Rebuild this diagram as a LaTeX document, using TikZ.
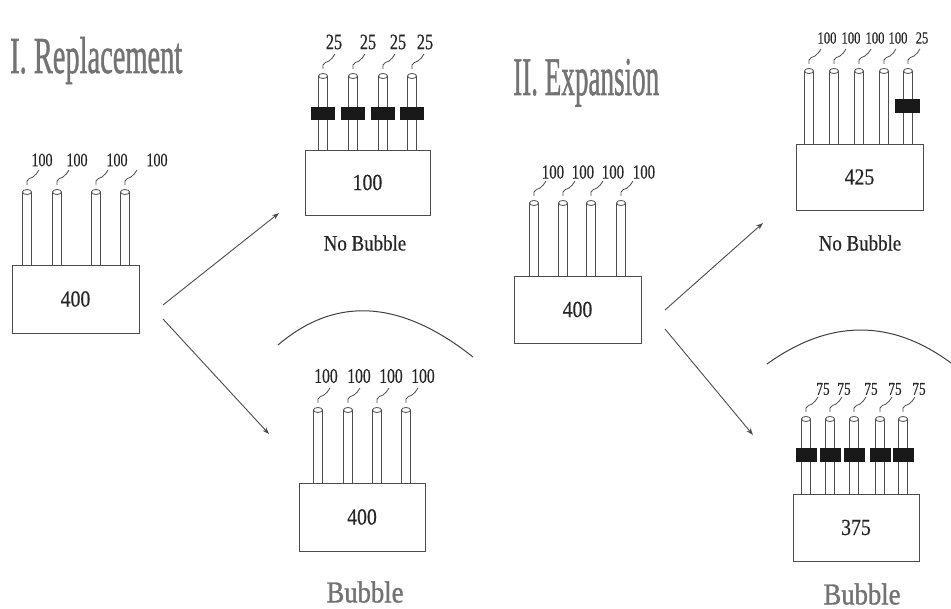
\documentclass[tikz,border=0pt]{standalone}
\usepackage{fontspec}
\setmainfont{Liberation Serif}
\newfontfamily\cf[FakeStretch=0.74,FakeBold=0.4]{Liberation Serif}
\newfontfamily\cfb[FakeStretch=0.86,FakeBold=0.4]{Liberation Serif}
\newfontfamily\tf[FakeBold=1.2]{Liberation Serif}
\usetikzlibrary{arrows.meta}
\tikzset{
  tubeline/.style={draw=black!70, line width=0.8pt},
  squig/.style={draw=black!70, line width=0.8pt},
  lab/.style={inner sep=0pt, text=black!85},
  box/.style={draw=black!70, line width=0.9pt, fill=white, inner sep=0pt, text=black!85, font=\cfb\fontsize{23}{23}\selectfont},
  arr/.style={draw=black!70, line width=0.9pt, -{Stealth[length=7pt,width=5pt]}},
  bubble/.style={draw=black!75, line width=1pt},
  blk/.style={fill=black!90},
  title/.style={anchor=base west, inner sep=0pt, text=black!55, font=\tf},
}
\newcommand\tubeat[6]{%
  \draw[tubeline] (#1-4.5,#2) -- (#1-4.5,#3) (#1+4.5,#2) -- (#1+4.5,#3);
  \draw[tubeline,fill=white] (#1,#2) ellipse [x radius=4.5pt, y radius=2.5pt];
  \draw[squig] (#1,#2-7) -- (#1,#2-11) .. controls (#1+1,#2-14) and (#1+3,#2-13) .. (#1+6,#2-15) .. controls (#1+9,#2-17) and (#1+10,#2-19) .. (#1+12,#2-22);
  \node[lab] at (#4,#5) {#6};
}
\begin{document}
\begin{tikzpicture}[x=1pt,y=-1pt]
\fill[white] (0,0) rectangle (951,609);
\useasboundingbox (0,0) rectangle (951,609);

% titles
\node[title] (t1) at (10,73) {\resizebox{172pt}{36pt}{I. Replacement}};
\node[title] (t2) at (513,95) {\resizebox{146pt}{36pt}{II. Expansion}};

% group 1
\begin{scope}[lab/.append style={font=\cf\fontsize{19}{19}\selectfont}]
\foreach \tx/\lx in {27/42,57/77,96/117,125/157}{\tubeat{\tx}{192}{265}{\lx}{160}{100}}
\end{scope}
\node[box, minimum width=127pt, minimum height=68pt] (b1) at (75.5,299) {400};

% group 2
\begin{scope}[lab/.append style={font=\cf\fontsize{22}{22}\selectfont}]
\foreach \tx/\lx in {323/334,353/368,383/398,412/425}{\tubeat{\tx}{76}{150}{\lx}{42}{25}}
\end{scope}
\foreach \tx in {323,353,383,412}{\fill[blk] (\tx-12,107) rectangle (\tx+12,120);}
\node[box, minimum width=125pt, minimum height=65pt] (b2) at (367.5,182.5) {100};
\node[inner sep=0pt, text=black!85, font=\cfb\fontsize{22}{22}\selectfont] (nb1) at (365,243) {No Bubble};

% group 3
\draw[bubble] (278,345) .. controls (335.7,295.7) and (400.7,299.7) .. (473,357);
\begin{scope}[lab/.append style={font=\cf\fontsize{21}{21}\selectfont}]
\foreach \tx/\lx in {318/326,348/359,377/391,406/423}{\tubeat{\tx}{410}{483}{\lx}{376}{100}}
\end{scope}
\node[box, minimum width=126pt, minimum height=68pt] (b3) at (362,517) {400};
\node[inner sep=0pt, text=black!55, font=\tf] (bb1) at (365,592) {\resizebox{77pt}{21pt}{Bubble}};

% group 4
\begin{scope}[lab/.append style={font=\cf\fontsize{20}{20}\selectfont}]
\foreach \tx/\lx in {534/553,563/583,591/613,621/644}{\tubeat{\tx}{203}{276}{\lx}{172}{100}}
\end{scope}
\node[box, minimum width=127pt, minimum height=67pt] (b4) at (577.5,309.5) {400};

% group 5
\begin{scope}[lab/.append style={font=\cf\fontsize{17}{17}\selectfont}]
\foreach \tx/\lx/\lt in {809/827/100,834/851/100,859/875/100,884/898/100,908/922/25}{\tubeat{\tx}{71}{144}{\lx}{38}{\lt}}
\end{scope}
\fill[blk] (895,99) rectangle (920,113);
\node[box, minimum width=127pt, minimum height=66pt] (b5) at (859.5,177) {425};
\node[inner sep=0pt, text=black!85, font=\cfb\fontsize{22}{22}\selectfont] (nb2) at (860,243) {No Bubble};

% group 6
\draw[bubble] (767,364) .. controls (829.7,319) and (891,318.7) .. (951,363);
\begin{scope}[lab/.append style={font=\cf\fontsize{18}{18}\selectfont}]
\foreach \tx/\lx in {806/823,830/844,854/871,880/895,903/919}{\tubeat{\tx}{419}{494}{\lx}{389}{75}}
\end{scope}
\foreach \tx in {806,830,854,880,903}{\fill[blk] (\tx-10.5,448) rectangle (\tx+10.5,462);}
\node[box, minimum width=126pt, minimum height=67pt] (b6) at (856,527.5) {375};
\node[inner sep=0pt, text=black!55, font=\tf] (bb2) at (862,594) {\resizebox{77pt}{21pt}{Bubble}};

% arrows
\coordinate (a1s) at (163,305); \coordinate (a1e) at (279,213);
\coordinate (a2s) at (163,319); \coordinate (a2e) at (269,434);
\coordinate (a3s) at (665,310); \coordinate (a3e) at (763,223);
\coordinate (a4s) at (665,329); \coordinate (a4e) at (753,435);
\draw[arr] (a1s) -- (a1e);
\draw[arr] (a2s) -- (a2e);
\draw[arr] (a3s) -- (a3e);
\draw[arr] (a4s) -- (a4e);
\end{tikzpicture}
\end{document}
